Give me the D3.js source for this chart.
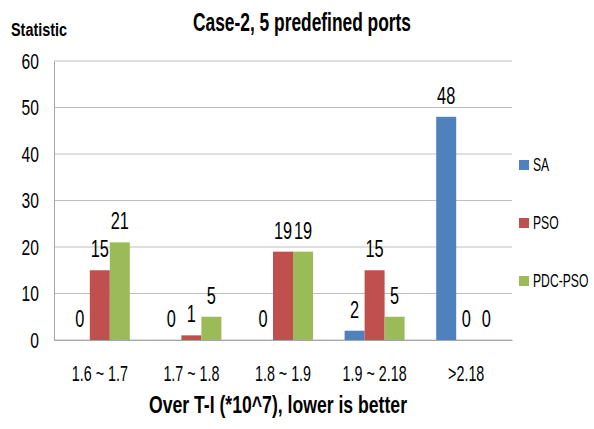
<!DOCTYPE html>
<meta charset="utf-8">
<script src="https://d3js.org/d3.v7.min.js"></script>
<style>
  body { margin: 0; background: #fff; }
  text { font-family: "Liberation Sans", Arial, sans-serif; }
</style>
<div id="chart"></div>
<script>
  // data
  const categories = ["1.6 ~ 1.7", "1.7 ~ 1.8", "1.8 ~ 1.9", "1.9 ~ 2.18", ">2.18"];
  const seriesNames = ["SA", "PSO", "PDC-PSO"];
  const SA = [0, 0, 0, 2, 48];
  const PSO = [15, 1, 19, 15, 0];
  const PDC_PSO = [21, 5, 19, 5, 0];
  const colors = ["#4F81BD", "#C0504D", "#9BBB59"];
  const yTicks = [0, 10, 20, 30, 40, 50, 60];

  const values = [SA, PSO, PDC_PSO];
  const rows = categories.map((c, i) => ({ cat: c, vals: values.map(v => v[i]) }));

  const W = 594, H = 429;
  const margin = { top: 61, right: 82, bottom: 89, left: 54 };
  const width = W - margin.left - margin.right,
      height = H - margin.top - margin.bottom;

  // the reference font is a narrow one, so squeeze text horizontally
  function squeeze(sel, f) {
    sel.each(function () {
      const w = this.getComputedTextLength();
      d3.select(this).attr("textLength", w * f).attr("lengthAdjust", "spacingAndGlyphs");
    });
  }

  const svg = d3.select("#chart").append("svg")
      .attr("width", W).attr("height", H);

  const g = svg.append("g")
      .attr("transform", `translate(${margin.left},${margin.top})`);

  const x = d3.scaleBand().domain(categories).range([0, width])
      .paddingInner(0.345).paddingOuter(0.1725);
  const xs = d3.scaleBand().domain(seriesNames).range([0, x.bandwidth()]);
  const y = d3.scaleLinear().domain([0, 60]).range([height, 0]);

  // gridlines
  g.selectAll(".grid").data(yTicks).join("line")
      .attr("x1", 0).attr("x2", width)
      .attr("y1", d => y(d)).attr("y2", d => y(d))
      .attr("stroke", "#bfbfbf").attr("stroke-width", 1);

  // y axis
  const yAxis = g.append("g").call(d3.axisLeft(y).tickValues(yTicks).tickSize(0).tickPadding(15));
  yAxis.select(".domain").attr("stroke", "#a6a6a6");
  yAxis.selectAll("text").style("font-size", "22px").attr("fill", "#000");
  squeeze(yAxis.selectAll("text"), 0.71);

  // x axis
  const xAxis = g.append("g").attr("transform", `translate(0,${height})`)
      .call(d3.axisBottom(x).tickSize(0).tickPadding(25));
  xAxis.select(".domain").attr("stroke", "#a6a6a6");
  xAxis.selectAll("text").style("font-size", "22px").attr("fill", "#000");
  squeeze(xAxis.selectAll("text"), 0.65);

  // bars
  const grp = g.selectAll(".grp").data(rows).join("g")
      .attr("transform", d => `translate(${x(d.cat)},0)`);

  grp.selectAll("rect").data(d => d.vals.map((v, k) => ({ k, v }))).join("rect")
      .attr("x", d => xs(seriesNames[d.k]))
      .attr("width", xs.bandwidth())
      .attr("y", d => y(d.v))
      .attr("height", d => height - y(d.v))
      .attr("fill", d => colors[d.k]);

  const lbl = grp.selectAll(".lbl").data(d => d.vals.map((v, k) => ({ k, v }))).join("text")
      .attr("x", d => xs(seriesNames[d.k]) + xs.bandwidth() / 2)
      .attr("y", d => y(d.v) - 13)
      .attr("text-anchor", "middle")
      .style("font-size", "23px")
      .text(d => d.v);
  squeeze(lbl, 0.71);

  // legend
  const legend = svg.append("g").attr("transform", "translate(519,160)");
  seriesNames.forEach((s, k) => {
    const item = legend.append("g").attr("transform", `translate(0,${k * 58})`);
    item.append("rect").attr("width", 10).attr("height", 10).attr("fill", colors[k]);
    const t = item.append("text").attr("x", 14).attr("y", 11).style("font-size", "19px").text(s);
    squeeze(t, 0.64);
  });

  // titles
  const title = svg.append("text").attr("x", 302).attr("y", 31).attr("text-anchor", "middle")
      .style("font-size", "26px").style("font-weight", "bold").text("Case-2, 5 predefined ports");
  title.attr("textLength", 218).attr("lengthAdjust", "spacingAndGlyphs");

  const yTitle = svg.append("text").attr("x", 11).attr("y", 36)
      .style("font-size", "18px").style("font-weight", "bold").text("Statistic");
  yTitle.attr("textLength", 56).attr("lengthAdjust", "spacingAndGlyphs");

  const xTitle = svg.append("text").attr("x", 278).attr("y", 413).attr("text-anchor", "middle")
      .style("font-size", "24px").style("font-weight", "bold").text("Over T-I (*10^7), lower is better");
  xTitle.attr("textLength", 258).attr("lengthAdjust", "spacingAndGlyphs");
</script>
